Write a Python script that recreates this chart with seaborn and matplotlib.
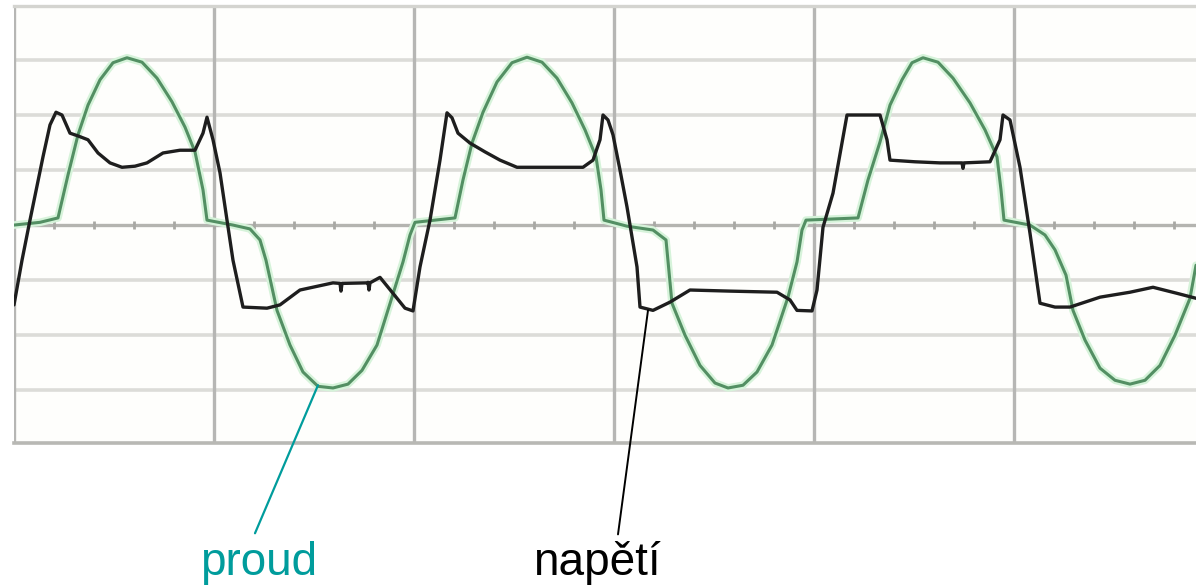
import matplotlib.pyplot as plt
import numpy as np
import seaborn as sns

sns.set_theme(style="white")
plt.rcParams['font.family'] = ['Liberation Sans', 'DejaVu Sans']

# time in ms (10 ms per grid division), values in grid divisions
proud_t = [0.0, 1.3, 2.2, 2.7, 3.2, 3.7, 4.3, 4.95, 5.65, 6.4, 7.15, 7.9, 8.55, 9.05, 9.45, 9.65,
           10.95, 11.8, 12.3, 12.6, 13.15, 13.8, 14.45, 15.2, 15.95, 16.7, 17.4, 18.15, 18.9, 19.45,
           19.8, 20.05, 22.05, 22.45, 22.9, 23.45, 24.15, 24.9, 25.65, 26.4, 27.15, 27.9, 28.55,
           29.1, 29.35, 29.5, 30.65, 31.95, 32.6, 32.9, 33.55, 34.3, 35.05, 35.7, 36.45, 37.15,
           37.9, 38.7, 39.15, 39.4, 39.6, 42.2, 42.7, 43.3, 43.8, 44.4, 44.9, 45.45, 46.2, 46.95,
           47.8, 48.55, 49.15, 49.35, 49.5, 50.8, 51.55, 52.05, 52.6, 52.95, 53.55, 54.3, 55.05,
           55.8, 56.55, 57.3, 58.05, 58.8, 59.1]
proud_v = [0.0, 0.05, 0.13, 0.91, 1.64, 2.18, 2.64, 2.95, 3.04, 2.96, 2.67, 2.24, 1.78, 1.33, 0.64, 0.09,
           0.0, -0.07, -0.27, -0.64, -1.55, -2.18, -2.67, -2.93, -2.96, -2.89, -2.64, -2.18, -1.31, -0.67,
           -0.18, 0.05, 0.13, 0.82, 1.49, 2.05, 2.6, 2.95, 3.05, 2.96, 2.67, 2.22, 1.73,
           1.24, 0.64, 0.09, -0.02, -0.09, -0.27, -1.42, -2.0, -2.55, -2.87, -2.96, -2.91, -2.67,
           -2.18, -1.31, -0.67, -0.09, 0.09, 0.13, 0.82, 1.51, 2.18, 2.64, 2.95, 3.04, 2.96, 2.67,
           2.22, 1.73, 1.24, 0.64, 0.09, 0.0, -0.18, -0.45, -0.91, -1.55, -2.09, -2.6, -2.82,
           -2.89, -2.82, -2.55, -2.0, -1.33, -0.73]

napeti_t = [0.0, 0.4, 0.8, 1.45, 1.8, 2.1, 2.4, 2.8, 3.2, 3.7, 4.2, 4.8, 5.4, 6.05, 6.65, 7.45, 8.3,
            9.05, 9.45, 9.65, 9.95, 10.3, 10.65, 10.95, 11.45, 12.65, 13.3, 14.3, 15.95, 16.3, 16.35,
            16.4, 17.65, 17.7, 17.75, 17.8, 18.3, 18.95, 19.55, 19.95, 20.3, 20.8, 21.3, 21.65, 21.9,
            22.2, 22.8, 23.55, 24.3, 25.15, 26.8, 28.45, 28.95, 29.3, 29.45, 29.7, 29.95, 30.3, 30.65,
            31.15, 31.3, 31.95, 32.8, 33.8, 35.8, 38.15, 38.8, 39.15, 39.9, 40.15, 40.45, 40.95,
            41.65, 43.3, 43.65, 43.8, 45.05, 46.3, 47.4, 47.45, 47.5, 48.8, 49.3, 49.45, 49.8, 50.3,
            50.8, 51.3, 52.05, 52.8, 54.3, 55.8, 56.95, 58.15, 59.1]
napeti_v = [-1.45, -0.64, 0.09, 1.24, 1.82, 2.05, 2.0, 1.67, 1.62, 1.55, 1.31, 1.13, 1.05, 1.07, 1.13,
            1.31, 1.36, 1.36, 1.67, 1.96, 1.55, 0.95, 0.09, -0.64, -1.49, -1.51, -1.45, -1.18, -1.05,
            -1.06, -1.2, -1.06, -1.05, -1.04, -1.18, -1.05, -0.95, -1.24, -1.51, -1.56, -0.76, 0.09,
            1.18, 2.04, 1.95, 1.67, 1.49, 1.33, 1.18, 1.05, 1.05, 1.05, 1.18, 1.55, 2.0, 1.91, 1.64,
            1.0, 0.33, -0.76, -1.49, -1.55, -1.4, -1.18, -1.2, -1.22, -1.36, -1.55, -1.56, -1.18,
            -0.04, 0.58, 2.0, 2.0, 1.55, 1.18, 1.15, 1.13, 1.13, 1.03, 1.13, 1.15, 1.55, 2.0, 1.91,
            1.05, -0.15, -1.42, -1.49, -1.49, -1.31, -1.22, -1.13, -1.24, -1.33]

t_max = 59.1
y_lo, y_hi = -3.96, 3.98
v_grid = [-3, -2, -1, 1, 2, 3]
t_grid = [0, 10, 20, 30, 40, 50]
zero_ticks = np.arange(2, 60, 2)

fig = plt.figure(figsize=(11.96, 5.86), dpi=100)
ax = fig.add_axes([0.0117, 0.244, 0.9883, 0.7457])
ax.set_facecolor('#fefefc')

for v in v_grid:
    ax.axhline(v, color='#dcdcd8', lw=2.6, zorder=0)
for t in t_grid:
    ax.axvline(t, color='#b6b6b4', lw=2.4, zorder=1)
ax.axhline(0, color='#b4b4b0', lw=2.4, zorder=1)
ax.scatter(zero_ticks, np.zeros_like(zero_ticks), marker='|', s=30, color='#a8a8a4', linewidths=2, zorder=1)

# light glow under current curve
sns.lineplot(x=proud_t, y=proud_v, ax=ax, color='#d6f3da', linewidth=5.5, sort=False, estimator=None, zorder=2)
sns.lineplot(x=proud_t, y=proud_v, ax=ax, color='#538f63', linewidth=2.2, sort=False, estimator=None, zorder=3)
sns.lineplot(x=napeti_t, y=napeti_v, ax=ax, color='#1e1e1e', linewidth=2.4, sort=False, estimator=None, zorder=4)

ax.set_xlim(0, t_max)
ax.set_ylim(y_lo, y_hi)
ax.set_xticks([])
ax.set_yticks([])
ax.set_xlabel("")
ax.set_ylabel("")
for side in ['left', 'right']:
    ax.spines[side].set_visible(False)
ax.spines['top'].set_color('#d4d4d0')
ax.spines['top'].set_linewidth(2.4)
ax.spines['bottom'].set_color('#b8b8b4')
ax.spines['bottom'].set_linewidth(2.6)

# callout lines
ax.plot([15.2, 12.05], [-2.91, -5.6], color='#009c9c', lw=1.6, clip_on=False, zorder=5)
ax.plot([31.7, 30.2], [-1.55, -5.62], color='black', lw=1.4, clip_on=False, zorder=5)

fig.text(0.2166, 0.019, "proud", color='#009c9c', fontsize=33, ha='center', va='baseline')
fig.text(0.499, 0.019, "napětí", color='black', fontsize=33, ha='center', va='baseline')

fig.savefig("out.png", dpi=100)
